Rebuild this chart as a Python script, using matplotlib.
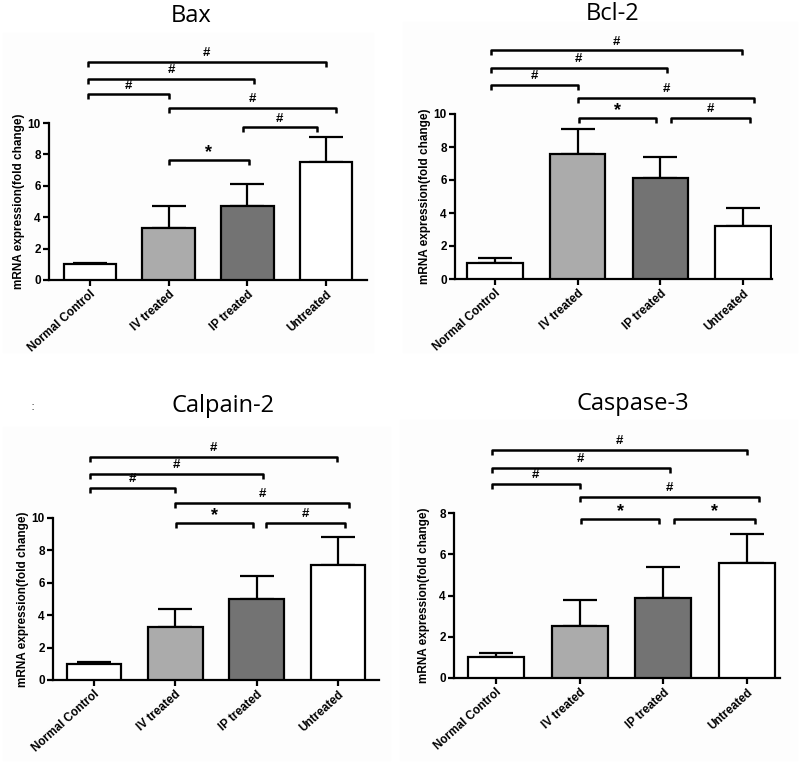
import matplotlib.pyplot as plt
import matplotlib.patches as mpatches
import numpy as np

groups = ['Normal Control', 'IV treated', 'IP treated', 'Untreated']
bar_colors = ['white', '#ababab', '#737373', 'white']

# means and upper error bar ends
bax_mean = [1.0, 3.3, 4.7, 7.5]
bax_top = [1.1, 4.7, 6.1, 9.1]
bcl2_mean = [1.0, 7.6, 6.1, 3.2]
bcl2_top = [1.3, 9.1, 7.4, 4.3]
calpain_mean = [1.0, 3.3, 5.0, 7.1]
calpain_top = [1.1, 4.4, 6.4, 8.8]
caspase_mean = [1.0, 2.5, 3.9, 5.6]
caspase_top = [1.2, 3.8, 5.4, 7.0]

# significance brackets: (x start, x end, height, mark)
bax_sig = [(1.0, 2.02, 7.67, '*'), (1.94, 2.88, 9.72, '#'), (1.01, 3.13, 10.97, '#'),
           (-0.03, 1.0, 11.82, '#'), (-0.03, 2.09, 12.8, '#'), (-0.03, 3.0, 13.88, '#')]
bcl2_sig = [(1.02, 1.95, 9.76, '*'), (2.13, 3.09, 9.76, '#'), (1.01, 3.13, 10.97, '#'),
            (-0.05, 1.0, 11.78, '#'), (-0.05, 2.08, 12.79, '#'), (-0.05, 2.99, 13.86, '#')]
calpain_sig = [(1.01, 1.95, 9.69, '*'), (2.12, 3.08, 9.69, '#'), (1.0, 3.13, 10.93, '#'),
               (-0.05, 0.99, 11.86, '#'), (-0.05, 2.08, 12.72, '#'), (-0.05, 2.99, 13.77, '#')]
caspase_sig = [(1.02, 1.95, 7.71, '*'), (2.13, 3.09, 7.71, '*'), (1.0, 3.14, 8.77, '#'),
               (-0.05, 1.0, 9.42, '#'), (-0.05, 2.08, 10.18, '#'), (-0.05, 3.0, 11.07, '#')]

W, H = 800, 762
fig = plt.figure(figsize=(W / 100, H / 100), dpi=100)
fig.patch.set_facecolor('white')

# faint panel backgrounds
for (x0, y0, x1, y1) in [(3, 33, 373, 352), (403, 22, 797, 352), (3, 427, 390, 760), (400, 420, 797, 760)]:
    fig.add_artist(mpatches.Rectangle((x0 / W, 1 - y1 / H), (x1 - x0) / W, (y1 - y0) / H,
                                      transform=fig.transFigure, color='#fdfdfd', zorder=-5))

tick_font = {'family': 'Liberation Sans', 'weight': 'bold', 'size': 8.5}


def panel(title, means, tops, sigs, x_axis, y_zero, y_max, ymax, ytop, tick_px, x_end, title_xy):
    # pixel positions: y-axis x, zero line y, top tick y, tick centres, axis end
    ppu = (y_zero - y_max) / ymax
    spacing = (tick_px[-1] - tick_px[0]) / 3
    left = -(tick_px[0] - x_axis) / spacing
    right = 3 + (x_end - tick_px[-1]) / spacing
    width_px = x_end - x_axis
    height_px = ytop * ppu
    ax = fig.add_axes([x_axis / W, 1 - y_zero / H, width_px / W, height_px / H])
    ax.patch.set_alpha(0)
    x = np.arange(len(groups))
    errs = np.array(tops) - np.array(means)
    ax.errorbar(x, means, yerr=[np.zeros(4), errs], fmt='none', ecolor='black',
                elinewidth=1.6, capsize=12, capthick=1.6, zorder=2)
    ax.bar(x, means, width=0.67, color=bar_colors, edgecolor='black', linewidth=1.6, zorder=3)
    ax.set_xlim(left, right)
    ax.set_ylim(0, ytop)
    ax.spines['top'].set_visible(False)
    ax.spines['right'].set_visible(False)
    ax.spines['left'].set_linewidth(1.6)
    ax.spines['bottom'].set_linewidth(1.6)
    ax.spines['left'].set_bounds(0, ymax)
    ax.set_yticks(np.arange(0, ymax + 1, 2))
    ax.set_xticks(x)
    ax.tick_params(width=1.6, length=4, pad=2)
    ax.set_xticklabels(groups, rotation=42, ha='right', va='top', rotation_mode='anchor', fontdict=tick_font)
    for lab in ax.get_yticklabels():
        lab.set_fontproperties('Liberation Sans')
        lab.set_fontweight('bold')
        lab.set_fontsize(8.5)
    ax.set_ylabel('mRNA expression(fold change)', fontdict={'family': 'Liberation Sans', 'weight': 'bold', 'size': 8.5})
    ax.yaxis.set_label_coords(-24 / width_px, (ymax / 2) / ytop)

    drop = 5 / ppu
    for (x1, x2, y, mark) in sigs:
        ax.plot([x1, x1, x2, x2], [y - drop, y, y, y - drop], color='black', lw=1.8,
                solid_capstyle='butt', clip_on=False)
        if mark == '*':
            ax.annotate(mark, ((x1 + x2) / 2, y), xytext=(0, -1), textcoords='offset points',
                        ha='center', va='bottom', fontsize=13, fontweight='bold', family='Liberation Sans')
        else:
            ax.annotate(mark, ((x1 + x2) / 2, y), xytext=(0, 2), textcoords='offset points',
                        ha='center', va='bottom', fontsize=9.5, fontweight='bold', family='Liberation Sans')

    fig.text(title_xy[0] / W, 1 - title_xy[1] / H, title, ha='center', va='center',
             fontsize=17, family='Open Sans')
    return ax


panel('Bax', bax_mean, bax_top, bax_sig, 49, 280, 123, 10, 15, [90, 169, 247, 326], 367, (191, 16))
panel('Bcl-2', bcl2_mean, bcl2_top, bcl2_sig, 455, 279, 114, 10, 15, [495, 578, 660, 743], 772, (613, 14))
panel('Calpain-2', calpain_mean, calpain_top, calpain_sig, 53, 680, 518, 10, 15, [94, 176, 257, 338], 379, (223, 406))
panel('Caspase-3', caspase_mean, caspase_top, caspase_sig, 454, 678, 513, 8, 12, [496, 580, 663, 747], 780, (633, 404))

fig.text(33 / W, 1 - 407 / H, ':', ha='center', va='center', fontsize=9, color='#555555')

fig.savefig('out.png', dpi=100, facecolor='white')
